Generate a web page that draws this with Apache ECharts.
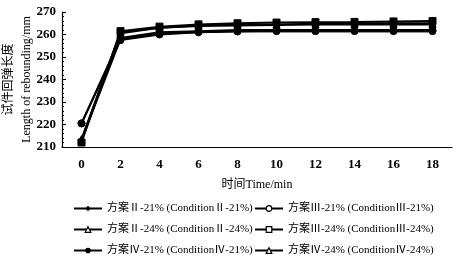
<!DOCTYPE html>
<html>
<head>
<meta charset="utf-8">
<script src="https://cdn.jsdelivr.net/npm/echarts@6/dist/echarts.min.js"></script>
<style>html,body{margin:0;padding:0;background:#fff}#chart{width:463px;height:267px}</style>
</head>
<body>
<div id="chart"></div>
<script>
var times = ['0', '2', '4', '6', '8', '10', '12', '14', '16', '18'];
var names = [
    '方案Ⅱ-21% (ConditionⅡ-21%)',
    '方案Ⅲ-21% (ConditionⅢ-21%)',
    '方案Ⅱ-24% (ConditionⅡ-24%)',
    '方案Ⅲ-24% (ConditionⅢ-24%)',
    '方案Ⅳ-21% (ConditionⅣ-21%)',
    '方案Ⅳ-24% (ConditionⅣ-24%)'
];
var c2_21 = [213, 258, 260.5, 261, 261.5, 261.5, 261.5, 261.5, 261.5, 261.5];
var c3_21 = [220.5, 258.5, 261, 261.5, 262, 262, 262, 262, 262, 262];
var c2_24 = [213, 261, 263, 264, 264.5, 264.5, 264.8, 265, 265, 265];
var c3_24 = [212, 261.5, 263.5, 264.5, 265, 265.3, 265.5, 265.6, 265.8, 266];
var c4_21 = [220.5, 257.5, 260, 261, 261.3, 261.5, 261.5, 261.5, 261.5, 261.5];
var c4_24 = [213.5, 260.5, 263, 263.8, 264, 264.2, 264.4, 264.5, 264.5, 264.5];
var values = [c2_21, c3_21, c2_24, c3_24, c4_21, c4_24];
var symbols = ['diamond', 'circle', 'triangle', 'rect', 'circle', 'triangle'];
var openIcon = [false, true, true, true, false, true];

var myChart = echarts.init(document.getElementById('chart'));

var font = '"Liberation Serif", "Noto Sans CJK SC", serif';

function legendItem(i) {
    return {
        name: names[i],
        itemStyle: openIcon[i] ? {color: '#fff', borderColor: '#000', borderWidth: 1.2} : {color: '#000'}
    };
}

var legendText = {fontFamily: font, fontSize: 11, color: '#000'};

var option = {
    animation: false,
    grid: {left: 62, right: 11, top: 12, bottom: 120, outerBoundsMode: 'none', containLabel: false},
    legend: [
        {
            orient: 'vertical', left: 68, top: 198, itemGap: 10,
            itemWidth: 28, itemHeight: 7,
            textStyle: legendText,
            data: [legendItem(0), legendItem(2), legendItem(4)]
        },
        {
            orient: 'vertical', left: 249, top: 198, itemGap: 10,
            itemWidth: 28, itemHeight: 7,
            textStyle: legendText,
            data: [legendItem(1), legendItem(3), legendItem(5)]
        }
    ],
    xAxis: {
        type: 'category',
        data: times,
        boundaryGap: true,
        name: '时间Time/min',
        nameLocation: 'middle',
        nameGap: 32,
        nameTextStyle: {fontFamily: font, fontSize: 12, color: '#000'},
        axisLine: {lineStyle: {color: '#000', width: 1.2}},
        axisTick: {inside: true, length: 3, lineStyle: {color: '#000'}},
        axisLabel: {fontFamily: font, fontSize: 13, fontWeight: 'bold', color: '#000', margin: 11}
    },
    yAxis: {
        type: 'value',
        min: 210, max: 270, interval: 10,
        name: '试件回弹长度\nLength of rebounding/mm',
        nameLocation: 'middle',
        nameRotate: 90,
        nameGap: 26,
        nameMoveOverlap: false,
        nameTextStyle: {fontFamily: font, fontSize: 12, color: '#000', lineHeight: 18},
        splitLine: {show: false},
        axisLine: {show: true, lineStyle: {color: '#000', width: 1.2}},
        axisTick: {show: true, inside: true, length: 4, lineStyle: {color: '#000'}},
        minorTick: {show: true, splitNumber: 5, length: 2, lineStyle: {color: '#000'}},
        axisLabel: {fontFamily: font, fontSize: 13, fontWeight: 'bold', color: '#000', margin: 6}
    },
    series: names.map(function (n, i) {
        return {
            name: n,
            type: 'line',
            data: values[i],
            symbol: symbols[i],
            symbolSize: 7,
            lineStyle: {color: '#000', width: 2},
            itemStyle: {color: '#000', borderColor: '#000'}
        };
    })
};

myChart.setOption(option);
</script>
</body>
</html>
